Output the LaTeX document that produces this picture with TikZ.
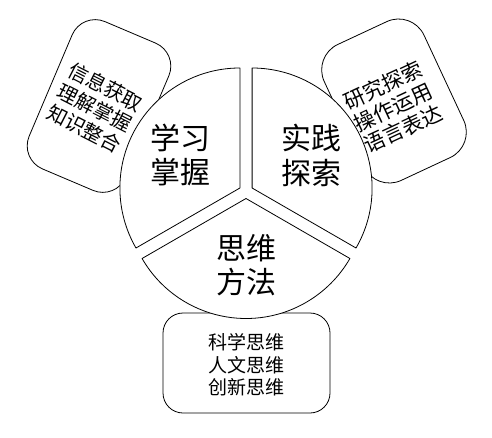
\documentclass[tikz,border=0pt]{standalone}
\usepackage{fontspec}
\newfontfamily\cjk{Noto Sans CJK SC}
\begin{document}
\begin{tikzpicture}[x=1pt,y=1pt,
  box/.style={draw=black, fill=white, line width=0.8pt, rounded corners=25pt, inner sep=0pt},
  sector/.style={draw=black, fill=white, line width=0.8pt, line join=round},
  bigtxt/.style={font=\cjk\fontsize{30}{34.5}\selectfont, align=center, inner sep=0pt},
  boxtxt/.style={font=\cjk\fontsize{20}{23.5}\selectfont, align=center, inner sep=0pt}]
\useasboundingbox (0,0) rectangle (492,437);
% outer boxes (behind the circle)
\node[box, minimum width=105pt, minimum height=160pt, rotate=-23] (lbox) at (99,331) {};
\node[box, minimum width=110pt, minimum height=150pt, rounded corners=28pt, rotate=25] (rbox) at (394,336) {};
\node[box, minimum width=167pt, minimum height=100pt, rounded corners=20pt] (bbox) at (246.5,74) {};
% pie sectors
\coordinate (cl) at (239.9,249);
\coordinate (cr) at (252.1,249);
\coordinate (cb) at (246,238.5);
\draw[sector] (cl) -- ++(90:120) arc[start angle=90, end angle=210, radius=120] -- cycle;
\draw[sector] (cr) -- ++(-30:120) arc[start angle=-30, end angle=90, radius=120] -- cycle;
\draw[sector] (cb) -- ++(210:120) arc[start angle=210, end angle=330, radius=120] -- cycle;
% sector labels
\node[bigtxt] (t1) at (180,282) {学习\\掌握};
\node[bigtxt] (t2) at (311,281.5) {实践\\探索};
\node[bigtxt] (t3) at (246,172) {思维\\方法};
% box labels
\node[boxtxt, rotate=-27] (lt) at (95,329) {信息获取\\理解掌握\\知识整合};
\node[boxtxt, font=\cjk\fontsize{21}{24}\selectfont, rotate=25] (rt) at (393,330) {研究探索\\操作运用\\语言表达};
\node[boxtxt, font=\cjk\fontsize{19}{22.5}\selectfont] (bt) at (246,72) {科学思维\\人文思维\\创新思维};
\end{tikzpicture}
\end{document}
